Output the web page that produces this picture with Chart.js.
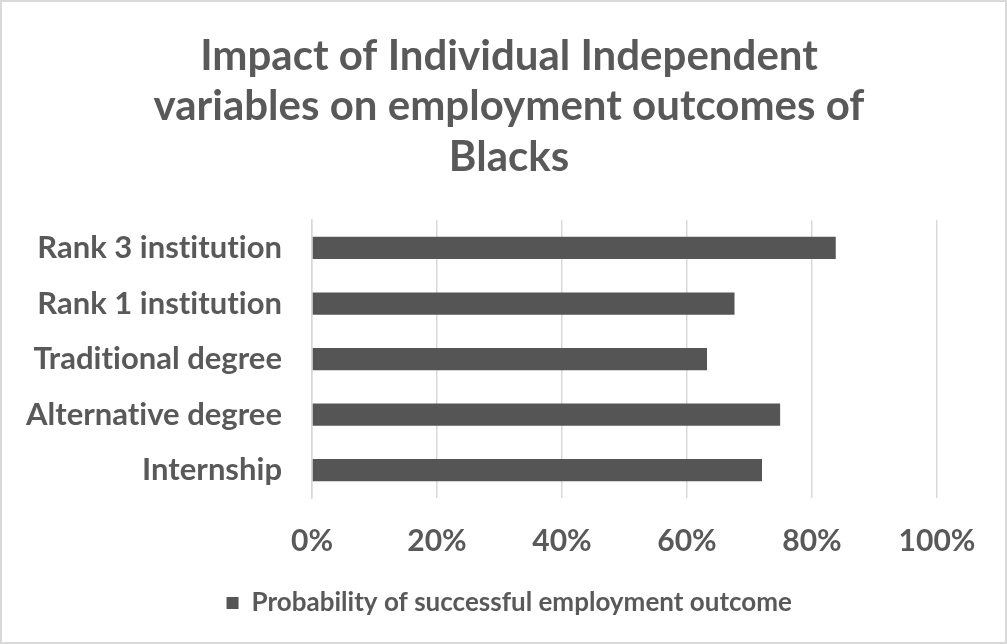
<!DOCTYPE html>
<html>
<head>
<meta charset="utf-8">
<title>Employment outcomes</title>
<script src="https://cdn.jsdelivr.net/npm/chart.js@4"></script>
<style>
  html, body { margin: 0; padding: 0; background: #fff; }
  #wrap {
    width: 1003px; height: 640px;
    border: 2px solid #d9d9d9;
    position: relative;
  }
  #chart { display: block; }
</style>
</head>
<body>
<div id="wrap"><canvas id="chart" width="1003" height="640"></canvas></div>
<script>
// categories, top to bottom
const categories = [
  "Rank 3 institution",
  "Rank 1 institution",
  "Traditional degree",
  "Alternative degree",
  "Internship"
];
// share of successful employment outcomes (%)
const probability = [83.8, 67.6, 63.2, 74.9, 72.0];
const seriesName = "Probability of successful employment outcome";
const titleLines = [
  "Impact of Individual Independent",
  "variables on employment outcomes of",
  "Blacks"
];
const xTicks = [0, 20, 40, 60, 80, 100];

const TEXT = "#595959";
const BAR = "#555555";
const FONT = "Lato, 'Open Sans', sans-serif";

Chart.defaults.font.family = FONT;
Chart.defaults.color = TEXT;

// tiny letter spacing keeps Lato from joining "ti" into a ligature
const noLigatures = {
  id: "noLigatures",
  beforeInit: chart => { if ("letterSpacing" in chart.ctx) chart.ctx.letterSpacing = "0.01px"; },
  beforeDraw: chart => { if ("letterSpacing" in chart.ctx) chart.ctx.letterSpacing = "0.01px"; }
};

new Chart(document.getElementById("chart"), {
  type: "bar",
  plugins: [noLigatures],
  data: {
    labels: categories,
    datasets: [{
      label: seriesName,
      data: probability,
      backgroundColor: BAR,
      borderWidth: 0,
      categoryPercentage: 1,
      barPercentage: 0.4
    }]
  },
  options: {
    indexAxis: "y",
    responsive: false,
    animation: false,
    // title and legend centre sits a bit right of the canvas middle
    layout: { padding: { left: 21, right: 10, top: 29, bottom: 16 } },
    plugins: {
      title: {
        display: true,
        text: titleLines,
        color: TEXT,
        font: { size: 42, weight: "bold" },
        lineHeight: 1.22,
        padding: { top: 0, bottom: 38 }
      },
      legend: {
        position: "bottom",
        labels: {
          color: TEXT,
          font: { size: 26, weight: "bold" },
          boxWidth: 12,
          boxHeight: 12,
          padding: 10
        }
      },
      tooltip: { enabled: false }
    },
    scales: {
      x: {
        min: 0,
        max: 100,
        afterBuildTicks: s => { s.ticks = xTicks.map(v => ({ value: v })); },
        afterFit: s => { s.height = 82; s.paddingRight = 68; },
        grid: { color: "#d9d9d9", lineWidth: 1.5, drawTicks: false },
        border: { display: false },
        ticks: {
          color: TEXT,
          font: { size: 30, weight: "bold" },
          padding: 25,
          callback: v => v + "%"
        }
      },
      y: {
        afterFit: s => { s.width = 289; },
        grid: { display: false, drawTicks: false },
        border: { color: "#d9d9d9", width: 1.5 },
        ticks: {
          color: TEXT,
          font: { size: 31, weight: "bold" },
          padding: 30
        }
      }
    }
  }
});
</script>
</body>
</html>
